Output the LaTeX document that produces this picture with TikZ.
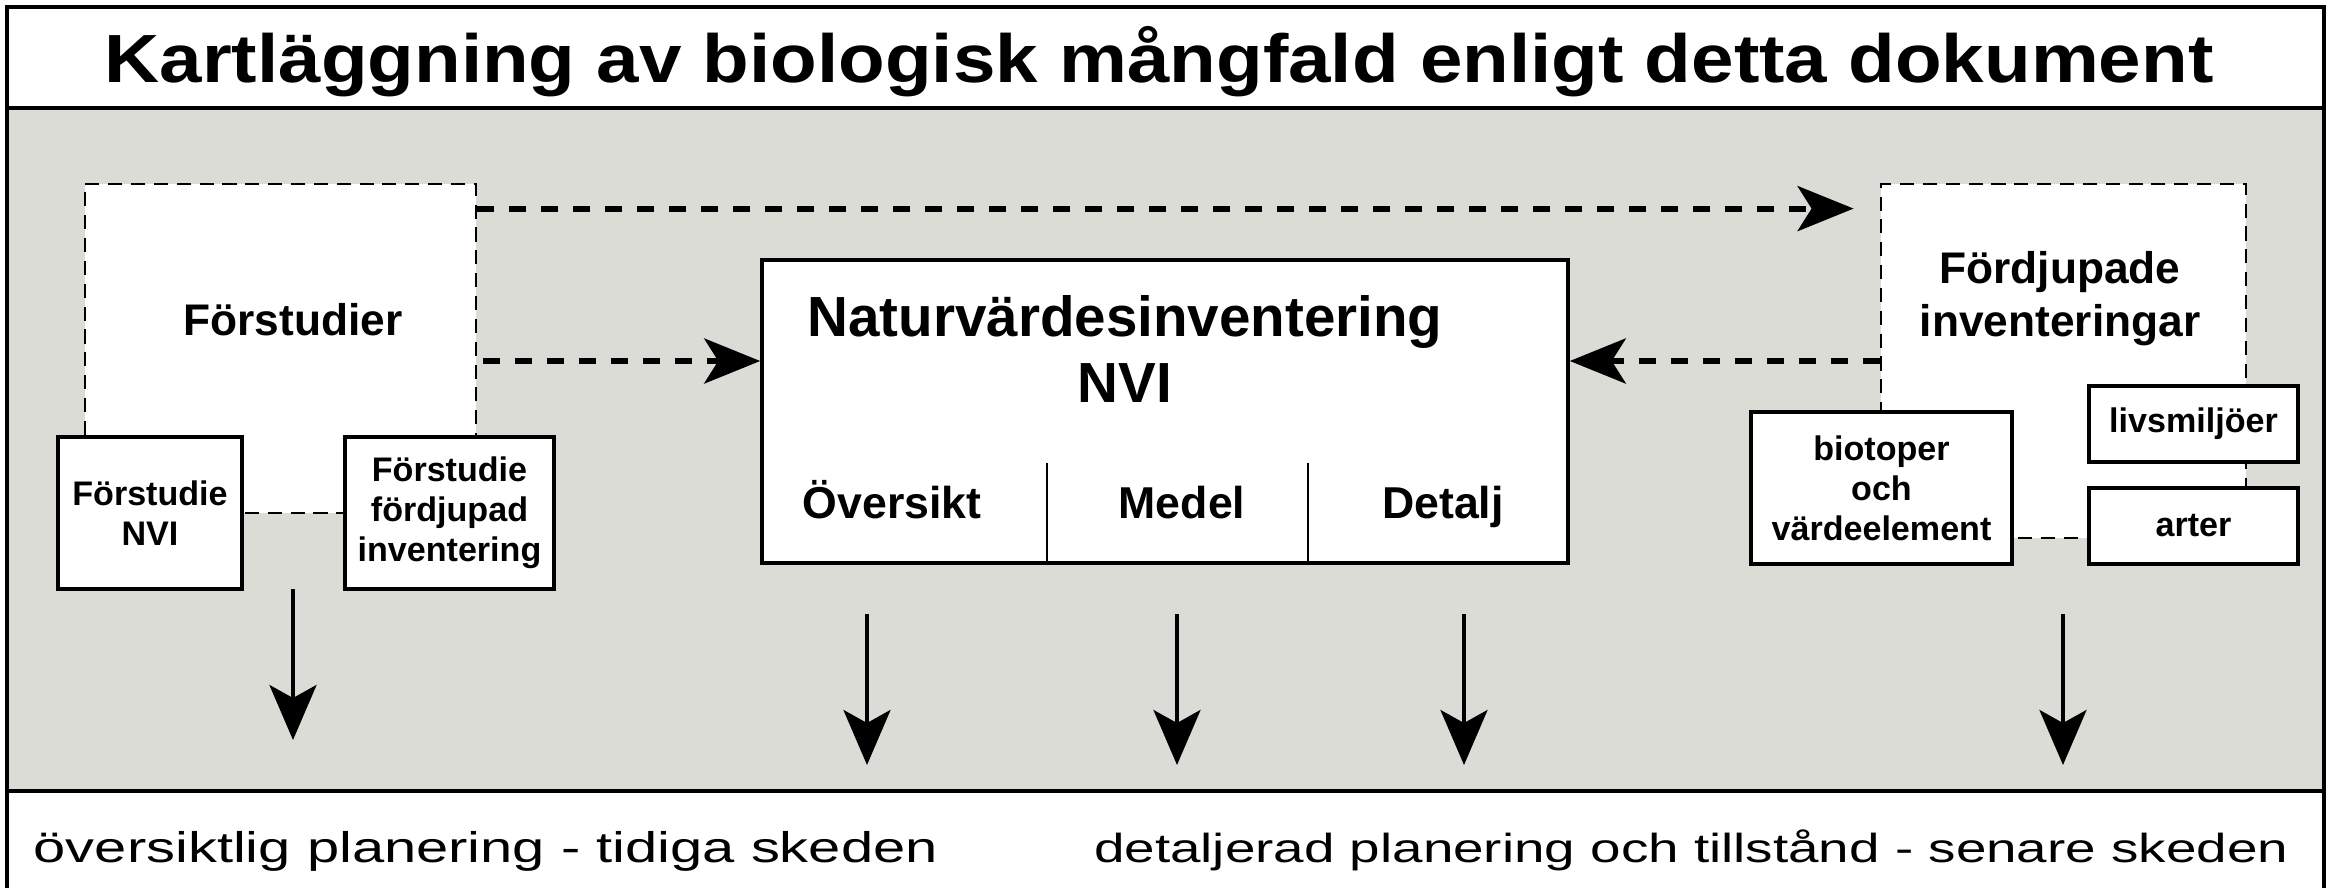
\documentclass[tikz,border=0pt]{standalone}
\usepackage{fontspec}
\setmainfont{Liberation Sans}
\newfontfamily\titlefont[FakeStretch=1.12]{Liberation Sans}
\newfontfamily\planfont[FakeStretch=1.35]{Liberation Sans}
\usepackage{tikz}
\usetikzlibrary{arrows.meta}
\definecolor{bandgray}{RGB}{220,220,215}

\begin{document}
\begin{tikzpicture}
	\tikzset{dashbox/.style={draw=black,fill=white,line width=0.8pt,dash pattern=on 4pt off 2.5pt,inner sep=0pt}}
	\tikzset{subbox/.style={draw=black,fill=white,line width=1pt,align=center,inner sep=2pt,font=\bfseries\fontsize{9.7}{11.4}\selectfont}}
	\tikzset{bigtext/.style={inner sep=0pt,align=center,font=\bfseries\fontsize{12.6}{15.1}\selectfont}}
	\tikzset{sectext/.style={inner sep=0pt,anchor=base,font=\bfseries\fontsize{12.7}{15}\selectfont}}
	\tikzset{plantext/.style={inner sep=0pt}}
	\tikzset{flowarrow/.style={line width=1.7pt,dash pattern=on 4.8pt off 4.3pt,-{Stealth[length=0.56cm,width=0.45cm,inset=0.14cm]}}}
	\tikzset{outarrow/.style={line width=1.1pt,-{Stealth[length=0.55cm,width=0.47cm,inset=0.13cm]}}}
	\useasboundingbox (0,0) rectangle (23.31,8.88);
	\fill[white] (0,0) rectangle (23.31,8.88);
	\fill[bandgray] (0.07,0.97) rectangle (23.24,7.80);
	\draw[line width=0.9pt] (0.07,0) -- (0.07,8.81) -- (23.24,8.81) -- (23.24,0);
	\draw[line width=0.9pt] (0.07,7.80) -- (23.24,7.80);
	\draw[line width=0.9pt] (0.07,0.97) -- (23.24,0.97);
	\node[inner sep=0pt,anchor=base,font=\titlefont\bfseries\fontsize{19.4}{23}\selectfont] (title) at (11.59,8.06) {Kartläggning av biologisk mångfald enligt detta dokument};
	% förstudier
	\node[dashbox,minimum width=3.91cm,minimum height=3.29cm] (fstud) at (2.805,5.395) {};
	\node[bigtext,anchor=base] (fstudlabel) at (2.93,5.53) {Förstudier};
	\node[subbox,minimum width=1.84cm,minimum height=1.52cm] (fsnvi) at (1.50,3.75) {Förstudie\\NVI};
	\node[subbox,minimum width=2.09cm,minimum height=1.52cm] (fsfdj) at (4.495,3.75) {Förstudie\\fördjupad\\inventering};
	% naturvärdesinventering
	\node[draw=black,fill=white,line width=1pt,minimum width=8.06cm,minimum height=3.03cm] (nvi) at (11.65,4.765) {};
	\node[inner sep=0pt,align=center,font=\bfseries\fontsize{16.1}{18.8}\selectfont] (nvilabel) at (11.25,5.39) {Naturvärdesinventering\\NVI};
	\node[sectext] (oversikt) at (8.92,3.70) {Översikt};
	\node[sectext] (medel) at (11.82,3.70) {Medel};
	\node[sectext] (detalj) at (14.43,3.70) {Detalj};
	\coordinate (div1) at (10.47,4.25);
	\coordinate (div2) at (13.08,4.25);
	\draw[line width=0.7pt] (div1) -- (div1 |- nvi.south);
	\draw[line width=0.7pt] (div2) -- (div2 |- nvi.south);
	% fördjupade inventeringar
	\node[dashbox,minimum width=3.65cm,minimum height=3.54cm] (fdj) at (20.635,5.27) {};
	\node[bigtext] (fdjlabel) at (20.60,5.89) {Fördjupade\\inventeringar};
	\node[subbox,minimum width=2.61cm,minimum height=1.52cm] (biotop) at (18.815,4.00) {biotoper\\och\\värdeelement};
	\node[subbox,minimum width=2.09cm,minimum height=0.76cm] (livs) at (21.935,4.64) {livsmiljöer};
	\node[subbox,minimum width=2.09cm,minimum height=0.76cm] (arter) at (21.935,3.62) {arter};
	% flöden
	\draw[flowarrow,shorten >=0.26cm] ([yshift=-0.26cm]fstud.north east) -- ([yshift=-0.26cm]fdj.north west);
	\draw[flowarrow,shorten <=0.06cm] (fstud.east |- fdj.west) -- (nvi.west |- fdj.west);
	\draw[flowarrow] (fdj.west) -- (fdj.west -| nvi.east);
	\foreach \x/\ya/\yb [count=\i] in {2.93/2.99/1.48,8.67/2.74/1.23,11.77/2.74/1.23,14.64/2.74/1.23,20.63/2.74/1.23}{
		\coordinate (src\i) at (\x,\ya);
		\coordinate (tgt\i) at (\x,\yb);
		\draw[outarrow] (src\i) -- (tgt\i);
	}
	\node[plantext,anchor=base west,font=\planfont\fontsize{12.2}{14}\selectfont] (early) at (0.33,0.26) {översiktlig planering - tidiga skeden};
	\node[plantext,anchor=base east,font=\planfont\fontsize{11.55}{14}\selectfont] (late) at (22.89,0.26) {detaljerad planering och tillstånd - senare skeden};
\end{tikzpicture}
\end{document}
